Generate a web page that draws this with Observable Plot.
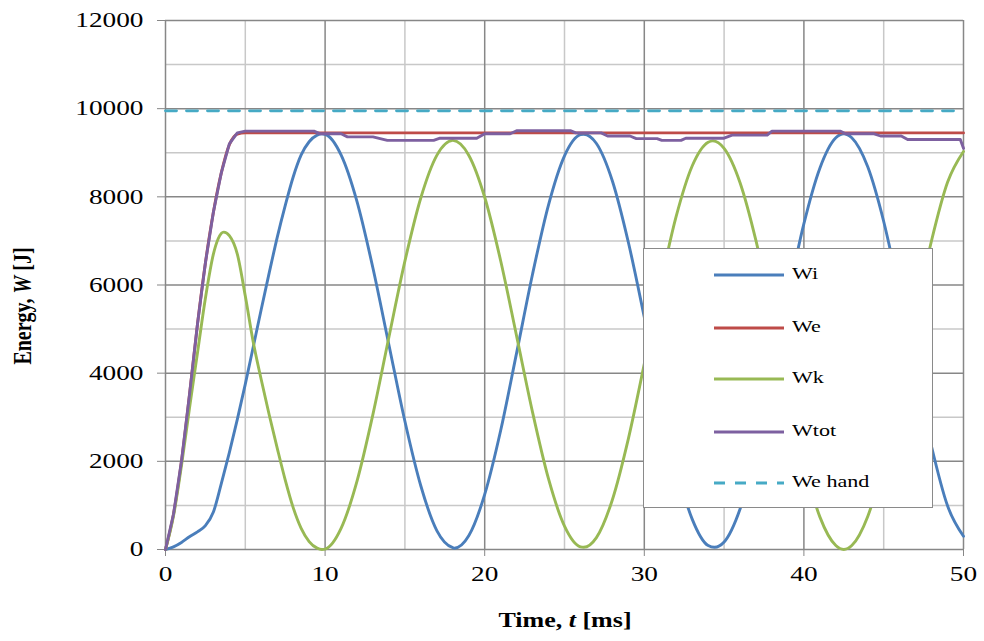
<!DOCTYPE html>
<html>
<head>
<meta charset="utf-8">
<script src="https://cdn.jsdelivr.net/npm/d3@7"></script>
<script src="https://cdn.jsdelivr.net/npm/@observablehq/plot@0.6"></script>
<style>
  body { margin: 0; background: #fff; }
  #wrap { position: relative; width: 984px; height: 641px; overflow: hidden; }
  #legend { position: absolute; left: 643px; top: 248px; width: 290px; height: 260px;
            box-sizing: border-box; border: 1.5px solid #8a8a8a; background: #fff; }
  .lg-row { position: absolute; left: 0; width: 100%; height: 24px; }
  .lg-row svg { position: absolute; left: 69px; top: 0; }
  .lg-row span { position: absolute; left: 148px; top: 1px; font: 17px "Liberation Serif", "Times New Roman", serif;
                 color: #000; transform: scaleX(1.3); transform-origin: left center; white-space: nowrap; }
</style>
</head>
<body>
<div id="wrap"><div id="legend"></div></div>
<script>
// ---------- data ----------
const seriesNames = ["Wi", "We", "Wk", "Wtot", "We hand"];

const tWi = [0,0.5,1,1.5,2,2.5,3,3.5,4,4.5,5,5.5,6,6.5,7,7.5,8,8.5,9,9.5,9.8,
  10,11,12,13,14,15,16,17,18,18.1,19,20,21,22,23,24,25,26,26.2,
  27,28,29,30,31,32,33,34,34.4,35,36,37,38,39,40,41,42,42.5,
  43,44,45,46,47,48,49,50];
const Wi = [0,60,160,290,400,540,850,1500,2200,2950,3750,4600,5450,6280,7080,7800,8450,8950,9250,9400,9430,
  9420,8950,7890,6380,4640,2910,1440,430,40,30,310,1250,2700,4460,6250,7820,8930,9410,9420,
  9210,8360,6970,5270,3490,1880,690,90,50,170,920,2230,3910,5730,7390,8650,9340,9430,
  9340,8680,7440,5800,4010,2330,990,300];

const tWe = [0,0.5,1,1.5,2,2.5,3,3.5,4,4.5,5,50];
const We = [0,800,2000,3500,5100,6500,7650,8550,9180,9420,9450,9450];

const tWk = [0,0.5,1,1.5,2,2.5,3,3.3,3.65,4,4.5,5,5.5,6,6.5,7,7.5,8,8.5,9,9.5,9.8,
  10,11,12,13,14,15,16,17,18,19,20,21,22,23,24,25,26,26.2,
  27,28,29,30,31,32,33,34,34.3,35,36,37,38,39,40,41,42,42.5,
  43,44,45,46,47,48,49,50];
const Wk = [0,760,1900,3200,4450,5700,6700,7050,7200,7120,6700,5750,4700,3850,3050,2300,1580,950,480,180,30,0,
  10,480,1550,3070,4820,6540,7980,8940,9280,8945,7990,6550,4840,3110,1600,530,60,50,
  270,1130,2510,4210,5980,7560,8700,9240,9270,9100,8320,7000,5340,3580,1970,740,90,0,
  90,750,1970,3580,5350,7010,8330,9030];

const tWtot = [0,0.5,1,1.5,2,2.5,3,3.5,4,4.5,5,9.3,9.7,11,11.4,13,13.9,16.8,17.2,19.5,20,21.6,22,25.4,25.7,
  27.3,27.7,29.1,29.5,30.8,31.1,32.3,32.6,35,35.5,37.7,38,42.3,42.6,44.4,44.8,46.1,46.5,49.8,50];
const Wtot = [0,800,2000,3500,5100,6500,7650,8550,9200,9450,9490,9490,9430,9430,9360,9360,9280,9280,9330,9330,9430,9430,9500,9500,9450,
  9450,9380,9380,9320,9320,9280,9280,9330,9330,9400,9400,9490,9490,9430,9430,9380,9380,9300,9300,9100];

const tWeHand = [0, 50];
const WeHand = [9950, 9950];

const xTicks = [0, 10, 20, 30, 40, 50];
const yTicks = [0, 2000, 4000, 6000, 8000, 10000, 12000];
const xMinor = [5, 15, 25, 35, 45];
const yMinor = [1000, 3000, 5000, 7000, 9000, 11000];

// ---------- styles ----------
const colors = { "Wi": "#4a7ebb", "We": "#be4b48", "Wk": "#98b954", "Wtot": "#7d60a0", "We hand": "#46aac5" };
const dashes = { "We hand": "11,10" };

const rows = (name, t, v) => t.map((ti, i) => ({ series: name, t: ti, W: v[i] }));
const data = {
  "Wi": rows("Wi", tWi, Wi),
  "We": rows("We", tWe, We),
  "Wk": rows("Wk", tWk, Wk),
  "Wtot": rows("Wtot", tWtot, Wtot),
  "We hand": rows("We hand", tWeHand, WeHand)
};
const curves = { "Wi": "monotone-x", "We": "monotone-x", "Wk": "monotone-x", "Wtot": "linear", "We hand": "linear" };

const lightGrid = "#c8c8c8", darkGrid = "#878787";

const chart = Plot.plot({
  width: 984, height: 641,
  marginLeft: 165, marginRight: 21, marginTop: 20, marginBottom: 92,
  style: { fontFamily: "'Liberation Serif', 'Times New Roman', serif", fontSize: "21px", background: "#fff", color: darkGrid },
  x: { domain: [0, 50], ticks: xTicks, tickSize: 7, tickPadding: 10, label: null, tickFormat: d => String(d) },
  y: { domain: [0, 12000], ticks: yTicks, tickSize: 8, tickPadding: 14, label: null, tickFormat: d => String(d) },
  marks: [
    Plot.ruleX(xMinor, { stroke: lightGrid, strokeWidth: 1.5 }),
    Plot.ruleY(yMinor, { stroke: lightGrid, strokeWidth: 1.5 }),
    Plot.ruleX(xTicks, { stroke: darkGrid, strokeWidth: 1.5 }),
    Plot.ruleY(yTicks, { stroke: darkGrid, strokeWidth: 1.5 }),
    ...seriesNames.map(name => Plot.line(data[name], {
      x: "t", y: "W", stroke: colors[name], strokeWidth: 2.9,
      strokeDasharray: dashes[name], curve: curves[name], strokeLinejoin: "round"
    }))
  ]
});

const svg = d3.select(chart);
// tick labels: black, stretched horizontally like the reference
svg.selectAll("text").each(function () {
  const el = d3.select(this);
  el.style("fill", "#000").style("font-size", "21px")
    .style("font-family", "'Liberation Serif', 'Times New Roman', serif");
  const x = +(el.attr("x") || 0);
  const tr = el.attr("transform") || "";
  el.attr("transform", `${tr} translate(${x},0) scale(1.3,1) translate(${-x},0)`);
});

// axis titles
const yTitle = svg.append("text")
  .attr("transform", "translate(31,306) rotate(-90) scale(1,1.3)")
  .attr("text-anchor", "middle")
  .style("font", "bold 20px 'Liberation Serif', 'Times New Roman', serif").style("fill", "#000");
yTitle.append("tspan").text("Energy, ");
yTitle.append("tspan").style("font-style", "italic").text("W");
yTitle.append("tspan").text(" [J]");

const xTitle = svg.append("text")
  .attr("transform", "translate(565,627) scale(1.3,1)")
  .attr("text-anchor", "middle")
  .style("font", "bold 20px 'Liberation Serif', 'Times New Roman', serif").style("fill", "#000");
xTitle.append("tspan").text("Time, ");
xTitle.append("tspan").style("font-style", "italic").text("t");
xTitle.append("tspan").text(" [ms]");

const wrap = document.getElementById("wrap");
wrap.insertBefore(chart, wrap.firstChild);

// legend
const legend = d3.select("#legend");
const rowTops = [14, 67, 118, 171, 222];
seriesNames.forEach((name, i) => {
  const r = legend.append("div").attr("class", "lg-row").style("top", rowTops[i] + "px");
  const s = r.append("svg").attr("width", 72).attr("height", 24);
  s.append("line").attr("x1", 1).attr("x2", 71).attr("y1", 12).attr("y2", 12)
    .attr("stroke", colors[name]).attr("stroke-width", 2.9)
    .attr("stroke-dasharray", dashes[name] || null);
  r.append("span").text(name);
});
</script>
</body>
</html>
